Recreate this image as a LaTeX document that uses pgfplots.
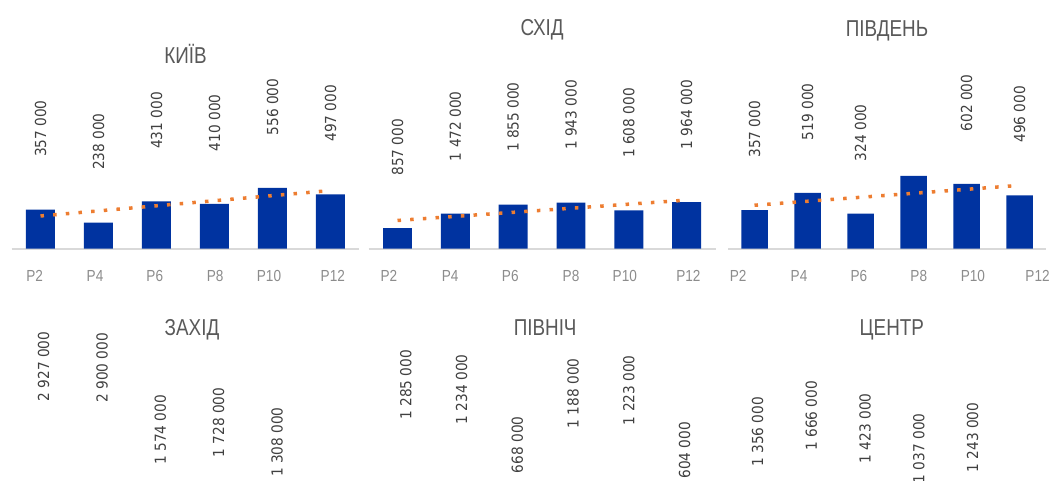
\documentclass[border=0pt]{standalone}
\usepackage{pgfplots}
\pgfplotsset{compat=1.18}
\usepackage{pgfplotstable}
\usepackage{fontspec}
\setmainfont{Liberation Sans}
\newfontfamily\titlefont[FakeStretch=0.82]{Liberation Sans}
\newfontfamily\tickfont[FakeStretch=0.85]{Liberation Sans}
\newfontfamily\lblfont[FakeStretch=0.9]{DejaVu Sans}
\definecolor{barblue}{RGB}{0,51,160}
\definecolor{trendorange}{RGB}{237,125,49}
\definecolor{axgray}{RGB}{217,217,217}
\definecolor{lblgray}{RGB}{64,64,64}
\definecolor{titlegray}{RGB}{89,89,89}
\definecolor{tickgray}{RGB}{140,140,140}

\pgfplotstableread[col sep=comma,row sep=\\]{
x,y,lab\\
0,357000,357 000\\
1,238000,238 000\\
2,431000,431 000\\
3,410000,410 000\\
4,556000,556 000\\
5,497000,497 000\\
}\kyiv
\pgfplotstableread[col sep=comma,row sep=\\]{
x,y,lab\\
0,857000,857 000\\
1,1472000,1 472 000\\
2,1855000,1 855 000\\
3,1943000,1 943 000\\
4,1608000,1 608 000\\
5,1964000,1 964 000\\
}\skhid
\pgfplotstableread[col sep=comma,row sep=\\]{
x,y,lab\\
0,357000,357 000\\
1,519000,519 000\\
2,324000,324 000\\
3,677000,\\
4,602000,602 000\\
5,496000,496 000\\
}\pivden
\pgfplotstableread[col sep=comma,row sep=\\]{
x,y,lab\\
0,2927000,2 927 000\\
1,2900000,2 900 000\\
2,1574000,1 574 000\\
3,1728000,1 728 000\\
4,1308000,1 308 000\\
}\zakhid
\pgfplotstableread[col sep=comma,row sep=\\]{
x,y,lab\\
0,1285000,1 285 000\\
1,1234000,1 234 000\\
2,668000,668 000\\
3,1188000,1 188 000\\
4,1223000,1 223 000\\
5,604000,604 000\\
}\pivnich
\pgfplotstableread[col sep=comma,row sep=\\]{
x,y,lab\\
0,1356000,1 356 000\\
1,1666000,1 666 000\\
2,1423000,1 423 000\\
3,1037000,1 037 000\\
4,1243000,1 243 000\\
}\tsentr

\pgfplotsset{
  panel/.style={
    scale only axis, anchor=south west,
    xmin=-0.5, xmax=5.5, ymin=0,
    axis x line=bottom, axis y line=none,
    x axis line style={draw=axgray, line width=2pt, -},
    major tick length=0pt,
    xticklabels={P2,P4,P6,P8,P10,P12},
    xticklabel style={font=\tickfont\fontsize{16}{19}\selectfont, text=tickgray, anchor=north, inner sep=0pt, yshift=-22pt},
    ytick=\empty,
    clip=false,
    every axis title/.style={at={(0.5,1)}, anchor=base, inner sep=0pt, font=\titlefont\fontsize{23}{27}\selectfont, text=titlegray},
  },
  bars/.style={ybar, bar width=0.5, fill=barblue, draw=none,
    nodes near coords, point meta=explicit symbolic,
    every node near coord/.append style={rotate=90, anchor=west, inner sep=0pt, xshift=#1, font=\lblfont\fontsize{15.2}{18}\selectfont, text=lblgray}},
  trend/.style={trendorange, line width=3.5pt, dash pattern=on 3.5pt off 9.2pt, mark=none},
}

\begin{document}
\begin{tikzpicture}
\useasboundingbox (0,0) rectangle (1051pt,-481pt);
\clip (0,0) rectangle (1051pt,-481pt);

% ---- top row ----
\begin{axis}[panel, at={(11.5pt,-248.5pt)}, width=348pt, height=185.2pt, ymax=1698000,
  xtick={-0.10,0.94,1.97,3.01,3.94,5.04}, title={КИЇВ}]
\addplot[bars=52.5pt] table[x=x, y=y, meta=lab] {\kyiv};
\addplot[trend] coordinates {(0,298190) (5,531476)};
\end{axis}

\begin{axis}[panel, at={(368.6pt,-248.5pt)}, width=347pt, height=213pt, ymax=9009900,
  xtick={-0.15,0.91,1.95,3.0,3.93,5.03}, title={СХІД}]
\addplot[bars=52.5pt] table[x=x, y=y, meta=lab] {\skhid};
\addplot[trend] coordinates {(0,1185700) (5,2047300)};
\end{axis}

\begin{axis}[panel, at={(728pt,-248.5pt)}, width=318pt, height=212pt, ymax=1975840,
  xtick={-0.31,0.84,1.97,3.10,4.12,5.34}, title={ПІВДЕНЬ}]
\addplot[bars=52.5pt] table[x=x, y=y, meta=lab] {\pivden};
\addplot[trend] coordinates {(0,403200) (5,588500)};
\end{axis}

% ---- bottom row (bars and category labels lie below the visible crop) ----
\begin{axis}[panel, at={(14.5pt,-631.8pt)}, width=350pt, height=296.3pt, ymax=6338000,
  xtick=\empty, title={ЗАХІД}, title style={xshift=2.5pt}]
\addplot[bars=93.5pt] table[x=x, y=y, meta=lab] {\zakhid};
\end{axis}

\begin{axis}[panel, at={(377.9pt,-624.6pt)}, width=334.5pt, height=289.1pt, ymax=3339000,
  xtick=\empty, title={ПІВНІЧ}]
\addplot[bars=93.5pt] table[x=x, y=y, meta=lab] {\pivnich};
\end{axis}

\begin{axis}[panel, at={(730.6pt,-630.2pt)}, width=322.5pt, height=294.7pt, ymax=5717000,
  xtick=\empty, title={ЦЕНТР}]
\addplot[bars=93.5pt] table[x=x, y=y, meta=lab] {\tsentr};
\end{axis}
\end{tikzpicture}
\end{document}
